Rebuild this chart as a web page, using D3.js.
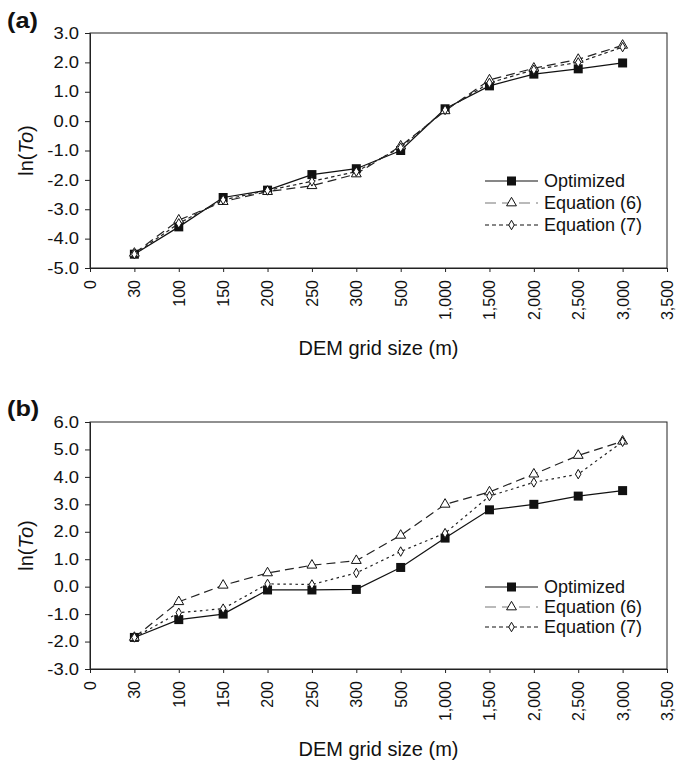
<!DOCTYPE html>
<html><head><meta charset="utf-8">
<script src="https://cdn.jsdelivr.net/npm/d3@7"></script>
<style>
body{margin:0;background:#fff}
svg{display:block}
text{font-family:"Liberation Sans",Arial,Helvetica,sans-serif;fill:#111}
</style>
</head><body>
<svg id="c" width="676" height="765"></svg>
<script>
// ---------- data ----------
const xLabels = ["0","30","100","150","200","250","300","500","1,000","1,500","2,000","2,500","3,000","3,500"];
const gridSizes = ["30","100","150","200","250","300","500","1,000","1,500","2,000","2,500","3,000"];
const seriesNames = ["Optimized","Equation (6)","Equation (7)"];

const aOptimized = [-4.53,-3.60,-2.60,-2.35,-1.82,-1.62,-1.00,0.42,1.20,1.60,1.78,1.98];
const aEq6       = [-4.50,-3.37,-2.74,-2.40,-2.20,-1.80,-0.85,0.35,1.40,1.80,2.10,2.58];
const aEq7       = [-4.53,-3.48,-2.68,-2.36,-2.05,-1.72,-0.90,0.38,1.30,1.75,2.00,2.52];

const bOptimized = [-1.85,-1.20,-1.00,-0.12,-0.12,-0.10,0.70,1.77,2.80,3.00,3.30,3.50];
const bEq6       = [-1.85,-0.55,0.05,0.50,0.78,0.95,1.87,3.00,3.45,4.10,4.78,5.30];
const bEq7       = [-1.85,-0.95,-0.80,0.10,0.08,0.50,1.28,1.95,3.30,3.80,4.10,5.28];

const aYTicks = [-5,-4,-3,-2,-1,0,1,2,3];
const bYTicks = [-3,-2,-1,0,1,2,3,4,5,6];

// ---------- layout / style ----------
const L = 90, R = 667, SX = 1.15;
const fmt = d3.formatLocale({decimal:".",thousands:",",grouping:[3],currency:["",""],minus:"-"}).format(".1f");
const styles = [
  {stroke:"#111", dash:null, legendStroke:"#111", legendDash:null, marker:"square"},
  {stroke:"#222", dash:"9,5", legendStroke:"#777", legendDash:"11,6", marker:"triangle"},
  {stroke:"#222", dash:"2.5,3.5", legendStroke:"#111", legendDash:"4,3", marker:"diamond"}
];
const panels = [
  {label:"(a)", labelY:28, top:33, bottom:268, yMin:-5, yMax:3, yTicks:aYTicks,
   series:[aOptimized,aEq6,aEq7], titleY:355, legendY:[181,203,225], eq7Dash:"3.5,3"},
  {label:"(b)", labelY:416, top:422, bottom:669, yMin:-3, yMax:6, yTicks:bYTicks,
   series:[bOptimized,bEq6,bEq7], titleY:756, legendY:[587,607,627], eq7Dash:"2.5,3.5"}
];

const svg = d3.select("#c");

function drawMarker(sel, kind, cx, cy){
  if(kind==="square"){
    sel.append("rect").attr("x",cx-4.5).attr("y",cy-4.5).attr("width",9).attr("height",9)
      .attr("fill","#111");
  } else if(kind==="triangle"){
    sel.append("path").attr("d",d3.symbol(d3.symbolTriangle).size(42)())
      .attr("transform",`translate(${cx},${cy})`).attr("fill","#fff").attr("stroke","#111").attr("stroke-width",1);
  } else {
    sel.append("path").attr("d",d3.symbol(d3.symbolDiamond).size(26)())
      .attr("transform",`translate(${cx},${cy})`).attr("fill","#fff").attr("stroke","#111").attr("stroke-width",1);
  }
}

panels.forEach(p=>{
  const x = d3.scalePoint().domain(xLabels).range([L,R]).padding(0);
  const y = d3.scaleLinear().domain([p.yMin,p.yMax]).range([p.bottom,p.top]);
  const g = svg.append("g");

  // frame
  g.append("rect").attr("x",L).attr("y",p.top).attr("width",R-L).attr("height",p.bottom-p.top)
    .attr("fill","none").attr("stroke","#222").attr("stroke-width",1);

  // y axis
  const ya = g.append("g").attr("transform",`translate(${L},0)`)
    .call(d3.axisLeft(y).tickValues(p.yTicks).tickFormat(fmt).tickSize(5).tickPadding(6));
  ya.select(".domain").attr("stroke","#222");
  ya.selectAll(".tick line").attr("stroke","#222");
  ya.selectAll("text").attr("font-size",16).attr("fill","#111")
    .attr("x",-11/SX).attr("transform",`scale(${SX},1)`);

  // x axis
  const xa = g.append("g").attr("transform",`translate(0,${p.bottom})`)
    .call(d3.axisBottom(x).tickSize(4).tickPadding(0));
  xa.select(".domain").attr("stroke","#222");
  xa.selectAll(".tick line").attr("stroke","#222");
  xa.selectAll("text").attr("font-size",16).attr("fill","#111")
    .attr("text-anchor","end").attr("x",-12).attr("y",0).attr("dy","0.34em")
    .attr("transform","rotate(-90)");

  // series
  p.series.forEach((vals,i)=>{
    const st = styles[i];
    const pts = gridSizes.map((c,j)=>({c, v:vals[j]}));
    const line = d3.line().x(d=>x(d.c)).y(d=>y(d.v));
    g.append("path").datum(pts).attr("d",line).attr("fill","none")
      .attr("stroke",st.stroke).attr("stroke-width",1.2)
      .attr("stroke-dasharray", i===2 ? p.eq7Dash : st.dash);
  });
  p.series.forEach((vals,i)=>{
    const st = styles[i];
    const mg = g.append("g");
    gridSizes.forEach((c,j)=>drawMarker(mg, st.marker, x(c), y(vals[j])));
  });

  // legend
  seriesNames.forEach((name,i)=>{
    const st = styles[i];
    const ly = p.legendY[i];
    g.append("line").attr("x1",485).attr("x2",538).attr("y1",ly).attr("y2",ly)
      .attr("stroke",st.legendStroke).attr("stroke-width",1.2).attr("stroke-dasharray",st.legendDash);
    drawMarker(g, st.marker, 511.5, ly);
    g.append("text").attr("x",544).attr("y",ly).attr("dy","0.35em").attr("font-size",18).text(name);
  });

  // panel label
  g.append("text").attr("transform",`translate(7,${p.labelY}) scale(${SX},1)`)
    .attr("font-size",22).attr("font-weight","bold").text(p.label);

  // axis titles
  g.append("text").attr("x",(L+R)/2).attr("y",p.titleY).attr("text-anchor","middle")
    .attr("font-size",20).text("DEM grid size (m)");
  const yt = g.append("text").attr("text-anchor","middle")
    .attr("transform",`translate(33,${(p.top+p.bottom)/2}) rotate(-90)`).attr("font-size",20);
  yt.append("tspan").text("ln(");
  yt.append("tspan").attr("font-style","italic").text("To");
  yt.append("tspan").text(")");
});
</script>
</body></html>
